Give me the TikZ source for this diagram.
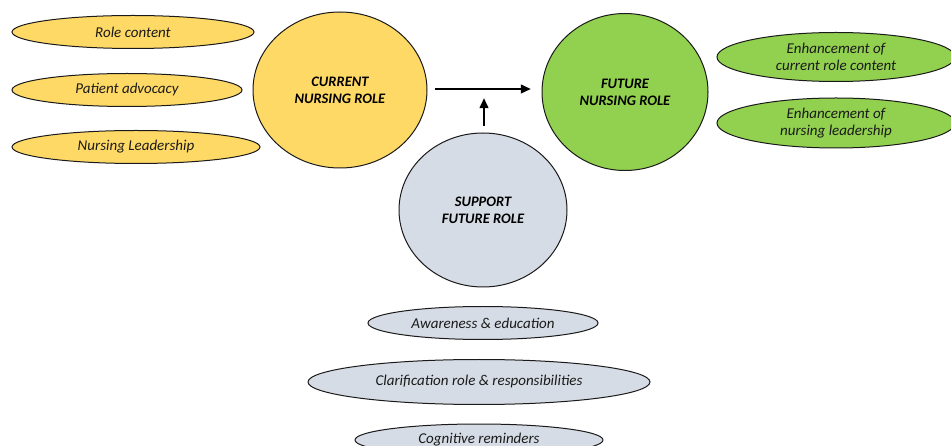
\documentclass[tikz,border=0pt]{standalone}
\usepackage{fontspec}
\setmainfont{Carlito}
\usepackage{tikz}
\usetikzlibrary{arrows.meta,positioning,shapes.geometric}
\definecolor{nrcur}{HTML}{FFD966}
\definecolor{nrfut}{HTML}{92D050}
\definecolor{nrsup}{HTML}{D6DCE5}
\definecolor{nrink}{HTML}{1A1A1A}
\tikzset{
  hub/.style={ellipse,draw=nrink,line width=1pt,inner sep=0pt,
              align=center,font=\fontsize{14.5}{17}\selectfont\bfseries\itshape,text=black},
  item/.style={ellipse,draw=nrink,line width=1pt,inner sep=0pt,
              align=center,font=\fontsize{15}{17.5}\selectfont\itshape,text=nrink},
  cur/.style={fill=nrcur},
  fut/.style={fill=nrfut},
  sup/.style={fill=nrsup},
  flow/.style={-{Triangle[length=3.6mm,width=3mm]},line width=2.8pt,draw=black},
}

\begin{document}
\begin{tikzpicture}[x=1pt,y=-1pt]
  \useasboundingbox (0,0) rectangle (951,446);
  \clip (0,0) rectangle (951,446);
  % three main roles
  \node[hub,cur,minimum width=174pt,minimum height=156pt] (cur) at (340,90) {CURRENT\\NURSING ROLE};
  \node[hub,fut,minimum width=166pt,minimum height=157pt] (fut) at (625,92) {FUTURE\\NURSING ROLE};
  \node[hub,sup,minimum width=168pt,minimum height=154pt] (sup) at (483,210) {SUPPORT\\FUTURE ROLE};
  % current role items
  \node[item,cur,minimum width=242pt,minimum height=33pt] (rc) at (133,32) {Role content};
  \node[item,cur,minimum width=230pt,minimum height=33pt] (pa) at (127,90) {Patient advocacy};
  \node[item,cur,minimum width=248pt,minimum height=33pt] (nl) at (136,147) {Nursing Leadership};
  % future role items
  \node[item,fut,minimum width=238pt,minimum height=49pt] (ec) at (836,57) {Enhancement of\\current role content};
  \node[item,fut,minimum width=238pt,minimum height=50pt] (en) at (836,123) {Enhancement of\\nursing leadership};
  % support items
  \node[item,sup,minimum width=230pt,minimum height=33pt] (ae) at (483,323) {Awareness \& education};
  \node[item,sup,minimum width=342pt,minimum height=45pt] (cl) at (479,382) {Clarification role \& responsibilities};
  \node[item,sup,minimum width=248pt,minimum height=32pt] (cg) at (479,440) {Cognitive reminders};
  % arrows
  \coordinate (a1) at (435,89);
  \coordinate (a2) at (531,89);
  \coordinate (b1) at (484,126);
  \coordinate (b2) at (484,98);
  \draw[flow] (a1) -- (a2);
  \draw[flow] (b1) -- (b2);
\end{tikzpicture}
\end{document}
